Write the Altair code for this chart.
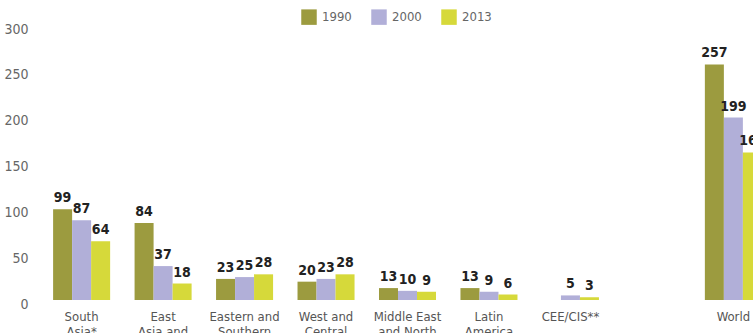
import altair as alt
import pandas as pd

regions = [
    "South\nAsia*",
    "East\nAsia and\nPacific",
    "Eastern and\nSouthern\nAfrica",
    "West and\nCentral\nAfrica",
    "Middle East\nand North\nAfrica",
    "Latin\nAmerica\nand Caribbean",
    "CEE/CIS**",
    " ",
    "World",
]
years = ["1990", "2000", "2013"]
v1990 = [99, 84, 23, 20, 13, 13, None, 257]
v2000 = [87, 37, 25, 23, 10, 9, 5, 199]
v2013 = [64, 18, 28, 28, 9, 6, 3, 161]
colors = ["#9c9b3f", "#b1afd8", "#d6d93a"]

data_regions = [r for r in regions if r.strip()]
rows = []
for i, r in enumerate(data_regions):
    for y, vals in zip(years, [v1990, v2000, v2013]):
        if vals[i] is not None:
            rows.append({"region": r, "year": y, "value": vals[i]})
df = pd.DataFrame(rows)

FONT = "Liberation Sans Narrow, DejaVu Sans Condensed, sans-serif"

base = alt.Chart(df).encode(
    x=alt.X(
        "region:N",
        sort=regions,
        scale=alt.Scale(domain=regions, range=[0, 743], paddingInner=0.3, paddingOuter=0.21),
        axis=alt.Axis(
            title=None,
            labelAngle=0,
            domain=False,
            ticks=False,
            labelPadding=10,
            labelFont=FONT,
            labelFontSize=13,
            labelColor="#555555",
            labelLineHeight=15,
            labelBaseline="top",
            labelExpr="split(datum.label, '\\n')",
        ),
    ),
    xOffset=alt.XOffset("year:N", sort=years),
    y=alt.Y(
        "value:Q",
        scale=alt.Scale(domain=[0, 300], nice=False),
        axis=alt.Axis(
            title=None,
            values=[0, 50, 100, 150, 200, 250, 300],
            domain=False,
            ticks=False,
            grid=False,
            labelPadding=8,
            labelFont=FONT,
            labelFontSize=14,
            labelColor="#666666",
            labelOffset=4,
        ),
    ),
)

bars = base.mark_bar().encode(
    color=alt.Color(
        "year:N",
        sort=years,
        scale=alt.Scale(domain=years, range=colors),
        legend=alt.Legend(
            title=None,
            orient="none",
            legendX=265,
            legendY=-16,
            direction="horizontal",
            symbolType="square",
            symbolSize=240,
            symbolStrokeWidth=0,
            symbolOpacity=1,
            labelFont=FONT,
            labelFontSize=13,
            labelColor="#666666",
            labelOffset=5,
            columnPadding=19,
        ),
    )
)

labels = base.mark_text(
    baseline="bottom",
    dy=-4,
    font=FONT,
    fontSize=14,
    fontWeight="bold",
    color="#222222",
).encode(text="value:Q")

chart = (
    alt.layer(bars, labels)
    .properties(
        width=717,
        height=275,
        autosize=alt.AutoSizeParams(type="none"),
        padding={"left": 36, "top": 25, "right": 0, "bottom": 33},
        background="white",
    )
    .configure_view(stroke=None)
)

chart.save("out.html", embed_options={"renderer": "svg", "actions": False})
